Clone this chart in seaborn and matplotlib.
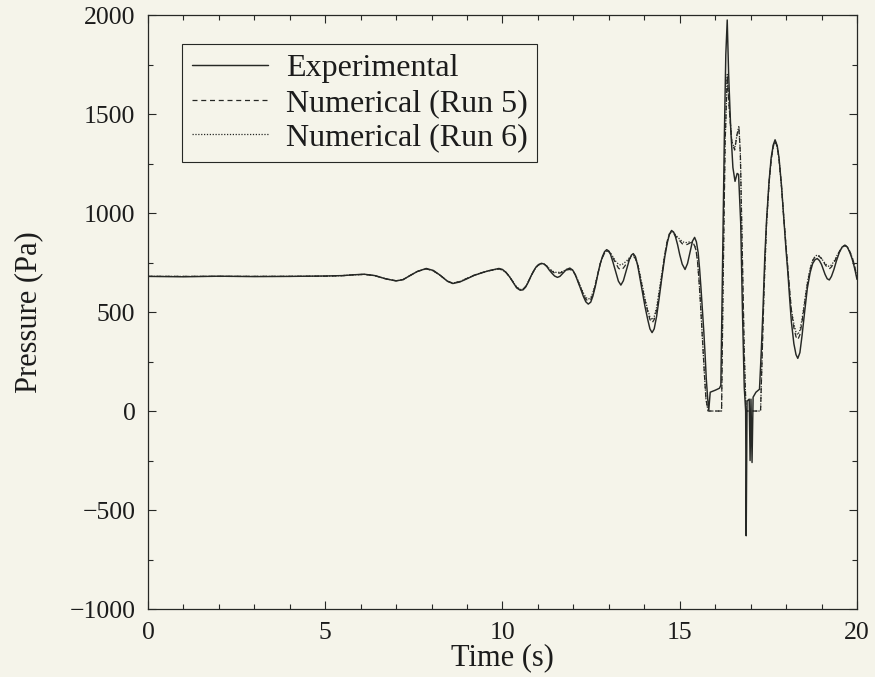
import matplotlib
matplotlib.use("Agg")
import matplotlib.pyplot as plt
import seaborn as sns
from matplotlib.ticker import MultipleLocator

# Measured pressure record: (time s, pressure Pa)
exp_points = [
    (0, 680), (1, 678), (2, 681), (3, 679), (4, 680), (5, 682), (5.5, 684),
    (5.8, 688), (6.1, 691), (6.4, 684), (6.7, 668), (7.0, 657), (7.2, 664),
    (7.4, 685), (7.6, 705), (7.85, 720), (8.05, 710), (8.25, 685), (8.45, 655),
    (8.6, 644), (8.8, 652), (9.0, 668), (9.2, 685), (9.4, 697), (9.6, 708),
    (9.9, 720), (10.0, 715), (10.1, 700), (10.2, 678), (10.3, 650),
    (10.4, 622), (10.5, 610), (10.58, 612), (10.65, 625), (10.72, 648),
    (10.8, 680), (10.88, 708), (10.95, 728), (11.02, 740), (11.1, 746),
    (11.18, 742), (11.25, 730), (11.32, 712), (11.4, 695), (11.47, 682),
    (11.55, 675), (11.62, 680), (11.7, 695), (11.8, 714), (11.9, 722),
    (11.98, 712), (12.05, 690), (12.12, 658), (12.2, 620), (12.28, 580),
    (12.35, 552), (12.42, 540), (12.49, 550), (12.55, 580), (12.62, 630),
    (12.7, 700), (12.76, 745), (12.82, 780), (12.88, 805), (12.94, 815),
    (13.0, 808), (13.05, 790), (13.12, 750), (13.2, 700), (13.27, 656),
    (13.34, 636), (13.41, 658), (13.5, 715), (13.58, 765), (13.64, 788),
    (13.69, 795), (13.75, 780), (13.82, 730), (13.88, 670), (13.95, 600),
    (14.02, 528), (14.1, 460), (14.16, 415), (14.22, 396), (14.28, 415),
    (14.35, 480), (14.42, 570), (14.5, 680), (14.58, 780), (14.65, 850),
    (14.71, 893), (14.77, 912), (14.83, 903), (14.88, 880), (14.94, 840),
    (15.0, 790), (15.07, 742), (15.15, 715), (15.22, 745), (15.3, 810),
    (15.36, 858), (15.42, 877), (15.47, 855), (15.52, 800), (15.56, 720),
    (15.6, 620), (15.64, 510), (15.68, 400), (15.72, 270), (15.75, 160),
    (15.79, 60), (15.82, 5), (15.86, 95), (16.0, 105), (16.12, 115),
    (16.16, 130), (16.2, 650), (16.26, 1400), (16.3, 1800), (16.34, 1975),
    (16.38, 1700), (16.44, 1420), (16.5, 1230), (16.56, 1160), (16.62, 1200),
    (16.66, 1195), (16.72, 950), (16.77, 500), (16.82, 120), (16.86, 0),
    (16.875, -630), (16.9, 50), (16.96, 60), (16.985, -250), (17.01, 60),
    (17.04, -260), (17.07, 70), (17.15, 95), (17.25, 110), (17.3, 300),
    (17.35, 520), (17.4, 780), (17.45, 965), (17.52, 1160), (17.58, 1280),
    (17.64, 1345), (17.69, 1370), (17.75, 1340), (17.8, 1280), (17.87, 1140),
    (17.94, 965), (18.0, 810), (18.05, 700), (18.1, 570), (18.15, 450),
    (18.22, 340), (18.28, 285), (18.33, 266), (18.39, 295), (18.45, 380),
    (18.52, 495), (18.6, 620), (18.68, 700), (18.75, 745), (18.82, 765),
    (18.88, 770), (18.94, 760), (19.0, 740), (19.05, 715), (19.1, 690),
    (19.16, 668), (19.22, 662), (19.28, 680), (19.35, 715), (19.42, 758),
    (19.5, 800), (19.58, 828), (19.66, 838), (19.73, 828), (19.8, 800),
    (19.86, 770), (19.9, 745), (19.95, 708), (20.0, 665),
]

# Simulated pressure: (time s, Run 5 Pa, Run 6 Pa)
num_points = [
    (0, 680, 680), (1, 680, 680), (2, 680, 680), (3, 680, 680),
    (4, 680, 680), (5, 681, 681), (5.5, 684, 684), (5.8, 688, 688),
    (6.1, 690, 690), (6.4, 684, 684), (6.7, 668, 668), (7.0, 658, 658),
    (7.2, 664, 664), (7.4, 685, 685), (7.6, 705, 705), (7.85, 718, 718),
    (8.05, 708, 708), (8.25, 684, 684), (8.45, 656, 656), (8.6, 646, 646),
    (8.8, 654, 654), (9.0, 670, 670), (9.2, 686, 686), (9.4, 698, 698),
    (9.6, 708, 708), (9.9, 718, 718), (10.0, 712, 712), (10.1, 700, 700),
    (10.2, 678, 678), (10.3, 652, 652), (10.4, 625, 625), (10.5, 614, 614),
    (10.58, 616, 616), (10.65, 628, 628), (10.72, 650, 650), (10.8, 680, 680),
    (10.88, 706, 706), (10.95, 726, 726), (11.02, 738, 738), (11.1, 744, 744),
    (11.18, 741, 741), (11.25, 732, 732), (11.32, 718, 720), (11.4, 705, 708),
    (11.47, 697, 701), (11.55, 695, 700), (11.62, 697, 701), (11.7, 702, 705),
    (11.8, 712, 715), (11.9, 715, 718), (11.98, 708, 710), (12.05, 690, 692),
    (12.12, 660, 664), (12.2, 625, 630), (12.28, 590, 597), (12.35, 565, 574),
    (12.42, 555, 565), (12.49, 563, 572), (12.55, 590, 598), (12.62, 638, 642),
    (12.7, 700, 700), (12.76, 745, 745), (12.82, 775, 775), (12.88, 798, 798),
    (12.94, 808, 808), (13.0, 805, 806), (13.05, 795, 798), (13.12, 772, 778),
    (13.2, 745, 755), (13.27, 722, 742), (13.34, 712, 737), (13.41, 722, 744),
    (13.5, 745, 758), (13.58, 768, 774), (13.64, 779, 783), (13.69, 782, 786),
    (13.75, 770, 775), (13.82, 735, 740), (13.88, 682, 690), (13.95, 620, 630),
    (14.02, 558, 568), (14.1, 500, 510), (14.16, 462, 475), (14.22, 445, 460),
    (14.28, 462, 477), (14.35, 510, 525), (14.42, 590, 605), (14.5, 690, 700),
    (14.58, 790, 795), (14.65, 860, 860), (14.71, 893, 895), (14.77, 905, 908),
    (14.83, 898, 902), (14.88, 885, 890), (14.94, 872, 878), (15.0, 860, 868),
    (15.07, 845, 856), (15.15, 838, 850), (15.22, 842, 852), (15.3, 850, 855),
    (15.36, 848, 850), (15.42, 835, 838), (15.46, 810, 812), (15.5, 760, 760),
    (15.54, 670, 670), (15.58, 560, 560), (15.62, 430, 430), (15.66, 300, 300),
    (15.7, 175, 175), (15.74, 60, 60), (15.8, 0, 0), (16.18, 0, 0),
    (16.22, 600, 600), (16.28, 1350, 1350), (16.34, 1690, 1700),
    (16.4, 1520, 1520), (16.47, 1360, 1360), (16.55, 1318, 1325),
    (16.62, 1400, 1400), (16.67, 1428, 1440), (16.71, 1300, 1300),
    (16.76, 850, 850), (16.82, 300, 300), (16.87, 0, 0), (17.28, 0, 0),
    (17.32, 250, 250), (17.38, 620, 620), (17.45, 950, 950),
    (17.52, 1150, 1150), (17.58, 1270, 1270), (17.64, 1340, 1336),
    (17.69, 1365, 1360), (17.75, 1335, 1332), (17.8, 1275, 1275),
    (17.87, 1135, 1135), (17.94, 965, 965), (18.0, 830, 830), (18.05, 720, 720),
    (18.1, 610, 610), (18.15, 510, 510), (18.22, 420, 440), (18.28, 375, 398),
    (18.33, 360, 385), (18.39, 385, 408), (18.45, 450, 465), (18.52, 540, 552),
    (18.6, 640, 650), (18.68, 715, 720), (18.75, 760, 760), (18.82, 780, 782),
    (18.88, 785, 788), (18.94, 780, 783), (19.0, 770, 770), (19.05, 756, 758),
    (19.1, 740, 745), (19.16, 725, 735), (19.22, 718, 730), (19.28, 728, 738),
    (19.35, 748, 755), (19.42, 775, 780), (19.5, 805, 805), (19.58, 826, 826),
    (19.66, 836, 836), (19.73, 828, 828), (19.8, 805, 805), (19.86, 778, 778),
    (19.9, 755, 755), (19.95, 718, 718), (20.0, 675, 675),
]

series_labels = ["Experimental", "Numerical (Run 5)", "Numerical (Run 6)"]
x_ticks = [0, 5, 10, 15, 20]
y_ticks = [-1000, -500, 0, 500, 1000, 1500, 2000]

t_exp = [p[0] for p in exp_points]
p_exp = [p[1] for p in exp_points]
t_num = [p[0] for p in num_points]
p_run5 = [p[1] for p in num_points]
p_run6 = [p[2] for p in num_points]

paper = "#f5f4ea"
ink = "#262825"
text_ink = "#1c1c1c"

sns.set_theme(style="ticks")
plt.rcParams["font.family"] = ["Liberation Serif", "DejaVu Serif"]

fig = plt.figure(figsize=(8.75, 6.77), dpi=100, facecolor=paper)
ax = fig.add_axes([0.1691, 0.1004, 0.8103, 0.8774])
ax.set_facecolor(paper)

sns.lineplot(x=t_exp, y=p_exp, ax=ax, color=ink, linewidth=1.05,
             estimator=None, label=series_labels[0])
sns.lineplot(x=t_num, y=p_run5, ax=ax, color=ink, linewidth=0.9,
             linestyle=(0, (4, 3)), estimator=None, label=series_labels[1])
sns.lineplot(x=t_num, y=p_run6, ax=ax, color=ink, linewidth=0.9,
             linestyle=(0, (1, 1.3)), estimator=None, label=series_labels[2])

ax.set_xlim(0, 20)
ax.set_ylim(-1000, 2000)
ax.set_xticks(x_ticks)
ax.set_yticks(y_ticks)
ax.xaxis.set_minor_locator(MultipleLocator(1))
ax.yaxis.set_minor_locator(MultipleLocator(250))
ax.tick_params(which="both", direction="in", top=True, right=True,
               color=ink, width=0.8, labelsize=18.5, labelcolor=text_ink)
ax.tick_params(which="major", length=6, pad=9)
ax.tick_params(which="minor", length=3.5)
for s in ax.spines.values():
    s.set_color(ink)
    s.set_linewidth(0.9)

ax.set_xlabel("Time (s)", fontsize=22, color=text_ink, labelpad=0)
ax.set_ylabel("Pressure (Pa)", fontsize=22, color=text_ink, labelpad=19)

leg = ax.legend(loc="upper left", bbox_to_anchor=(0.048, 0.951),
                borderaxespad=0, fancybox=False, frameon=True,
                edgecolor=ink, facecolor=paper, framealpha=1, fontsize=23,
                handlelength=2.4, handletextpad=0.55, labelspacing=0.17,
                borderpad=0.3)
leg.get_frame().set_linewidth(0.8)
for txt in leg.get_texts():
    txt.set_color(text_ink)

fig.savefig("out.png", dpi=100, facecolor=paper)
